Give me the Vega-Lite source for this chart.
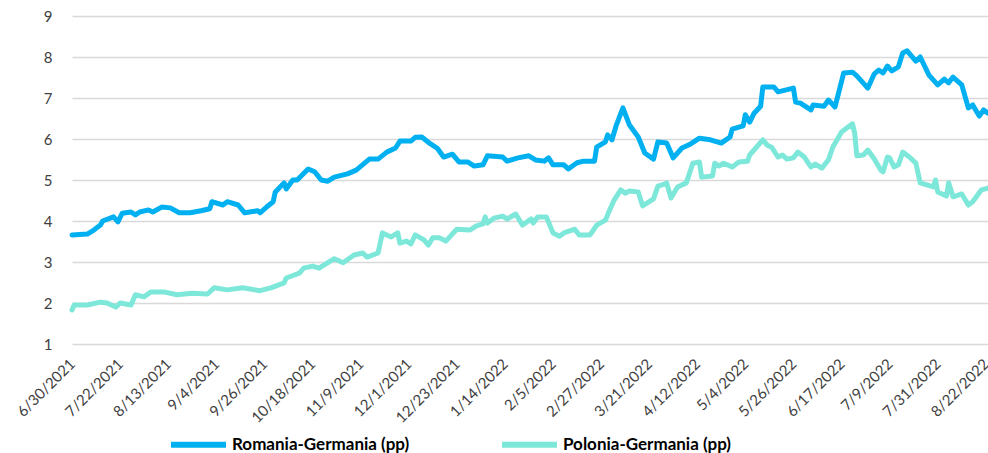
{
  "$schema": "https://vega.github.io/schema/vega-lite/v6.json",
  "width": 916,
  "height": 328,
  "autosize": {"type": "none"},
  "padding": {"left": 72, "top": 16, "right": 0, "bottom": 109},
  "config": {"view": {"stroke": null}, "font": "Lato"},
  "data": {"values": [
    {"d":"2021/06/30","s":"Romania-Germania (pp)","v":3.66},
    {"d":"2021/07/07","s":"Romania-Germania (pp)","v":3.68},
    {"d":"2021/07/10","s":"Romania-Germania (pp)","v":3.78},
    {"d":"2021/07/13","s":"Romania-Germania (pp)","v":3.9},
    {"d":"2021/07/14","s":"Romania-Germania (pp)","v":4.0},
    {"d":"2021/07/19","s":"Romania-Germania (pp)","v":4.1},
    {"d":"2021/07/21","s":"Romania-Germania (pp)","v":3.98},
    {"d":"2021/07/23","s":"Romania-Germania (pp)","v":4.19},
    {"d":"2021/07/27","s":"Romania-Germania (pp)","v":4.22},
    {"d":"2021/07/29","s":"Romania-Germania (pp)","v":4.15},
    {"d":"2021/07/31","s":"Romania-Germania (pp)","v":4.22},
    {"d":"2021/08/04","s":"Romania-Germania (pp)","v":4.27},
    {"d":"2021/08/06","s":"Romania-Germania (pp)","v":4.22},
    {"d":"2021/08/10","s":"Romania-Germania (pp)","v":4.34},
    {"d":"2021/08/14","s":"Romania-Germania (pp)","v":4.32},
    {"d":"2021/08/18","s":"Romania-Germania (pp)","v":4.2},
    {"d":"2021/08/23","s":"Romania-Germania (pp)","v":4.2},
    {"d":"2021/08/28","s":"Romania-Germania (pp)","v":4.25},
    {"d":"2021/09/01","s":"Romania-Germania (pp)","v":4.3},
    {"d":"2021/09/02","s":"Romania-Germania (pp)","v":4.47},
    {"d":"2021/09/07","s":"Romania-Germania (pp)","v":4.39},
    {"d":"2021/09/09","s":"Romania-Germania (pp)","v":4.47},
    {"d":"2021/09/14","s":"Romania-Germania (pp)","v":4.39},
    {"d":"2021/09/17","s":"Romania-Germania (pp)","v":4.2},
    {"d":"2021/09/23","s":"Romania-Germania (pp)","v":4.25},
    {"d":"2021/09/24","s":"Romania-Germania (pp)","v":4.2},
    {"d":"2021/09/27","s":"Romania-Germania (pp)","v":4.34},
    {"d":"2021/09/30","s":"Romania-Germania (pp)","v":4.47},
    {"d":"2021/10/01","s":"Romania-Germania (pp)","v":4.71},
    {"d":"2021/10/05","s":"Romania-Germania (pp)","v":4.93},
    {"d":"2021/10/06","s":"Romania-Germania (pp)","v":4.78},
    {"d":"2021/10/09","s":"Romania-Germania (pp)","v":5.0},
    {"d":"2021/10/11","s":"Romania-Germania (pp)","v":5.0},
    {"d":"2021/10/16","s":"Romania-Germania (pp)","v":5.27},
    {"d":"2021/10/19","s":"Romania-Germania (pp)","v":5.2},
    {"d":"2021/10/22","s":"Romania-Germania (pp)","v":5.0},
    {"d":"2021/10/25","s":"Romania-Germania (pp)","v":4.97},
    {"d":"2021/10/28","s":"Romania-Germania (pp)","v":5.07},
    {"d":"2021/11/03","s":"Romania-Germania (pp)","v":5.15},
    {"d":"2021/11/07","s":"Romania-Germania (pp)","v":5.24},
    {"d":"2021/11/13","s":"Romania-Germania (pp)","v":5.51},
    {"d":"2021/11/17","s":"Romania-Germania (pp)","v":5.51},
    {"d":"2021/11/21","s":"Romania-Germania (pp)","v":5.68},
    {"d":"2021/11/25","s":"Romania-Germania (pp)","v":5.78},
    {"d":"2021/11/27","s":"Romania-Germania (pp)","v":5.95},
    {"d":"2021/12/02","s":"Romania-Germania (pp)","v":5.95},
    {"d":"2021/12/04","s":"Romania-Germania (pp)","v":6.04},
    {"d":"2021/12/07","s":"Romania-Germania (pp)","v":6.05},
    {"d":"2021/12/11","s":"Romania-Germania (pp)","v":5.88},
    {"d":"2021/12/14","s":"Romania-Germania (pp)","v":5.78},
    {"d":"2021/12/17","s":"Romania-Germania (pp)","v":5.56},
    {"d":"2021/12/21","s":"Romania-Germania (pp)","v":5.63},
    {"d":"2021/12/24","s":"Romania-Germania (pp)","v":5.44},
    {"d":"2021/12/28","s":"Romania-Germania (pp)","v":5.44},
    {"d":"2021/12/31","s":"Romania-Germania (pp)","v":5.34},
    {"d":"2022/01/04","s":"Romania-Germania (pp)","v":5.37},
    {"d":"2022/01/06","s":"Romania-Germania (pp)","v":5.59},
    {"d":"2022/01/13","s":"Romania-Germania (pp)","v":5.56},
    {"d":"2022/01/15","s":"Romania-Germania (pp)","v":5.46},
    {"d":"2022/01/20","s":"Romania-Germania (pp)","v":5.54},
    {"d":"2022/01/25","s":"Romania-Germania (pp)","v":5.59},
    {"d":"2022/01/28","s":"Romania-Germania (pp)","v":5.49},
    {"d":"2022/02/01","s":"Romania-Germania (pp)","v":5.46},
    {"d":"2022/02/03","s":"Romania-Germania (pp)","v":5.54},
    {"d":"2022/02/05","s":"Romania-Germania (pp)","v":5.37},
    {"d":"2022/02/10","s":"Romania-Germania (pp)","v":5.37},
    {"d":"2022/02/12","s":"Romania-Germania (pp)","v":5.27},
    {"d":"2022/02/16","s":"Romania-Germania (pp)","v":5.42},
    {"d":"2022/02/19","s":"Romania-Germania (pp)","v":5.46},
    {"d":"2022/02/24","s":"Romania-Germania (pp)","v":5.46},
    {"d":"2022/02/25","s":"Romania-Germania (pp)","v":5.8},
    {"d":"2022/03/01","s":"Romania-Germania (pp)","v":5.93},
    {"d":"2022/03/02","s":"Romania-Germania (pp)","v":6.1},
    {"d":"2022/03/04","s":"Romania-Germania (pp)","v":5.98},
    {"d":"2022/03/06","s":"Romania-Germania (pp)","v":6.34},
    {"d":"2022/03/09","s":"Romania-Germania (pp)","v":6.76},
    {"d":"2022/03/12","s":"Romania-Germania (pp)","v":6.34},
    {"d":"2022/03/16","s":"Romania-Germania (pp)","v":6.05},
    {"d":"2022/03/19","s":"Romania-Germania (pp)","v":5.66},
    {"d":"2022/03/23","s":"Romania-Germania (pp)","v":5.51},
    {"d":"2022/03/25","s":"Romania-Germania (pp)","v":5.93},
    {"d":"2022/03/29","s":"Romania-Germania (pp)","v":5.9},
    {"d":"2022/04/01","s":"Romania-Germania (pp)","v":5.54},
    {"d":"2022/04/05","s":"Romania-Germania (pp)","v":5.78},
    {"d":"2022/04/09","s":"Romania-Germania (pp)","v":5.88},
    {"d":"2022/04/13","s":"Romania-Germania (pp)","v":6.02},
    {"d":"2022/04/18","s":"Romania-Germania (pp)","v":5.98},
    {"d":"2022/04/23","s":"Romania-Germania (pp)","v":5.9},
    {"d":"2022/04/27","s":"Romania-Germania (pp)","v":6.05},
    {"d":"2022/04/28","s":"Romania-Germania (pp)","v":6.24},
    {"d":"2022/05/03","s":"Romania-Germania (pp)","v":6.32},
    {"d":"2022/05/04","s":"Romania-Germania (pp)","v":6.59},
    {"d":"2022/05/06","s":"Romania-Germania (pp)","v":6.41},
    {"d":"2022/05/08","s":"Romania-Germania (pp)","v":6.63},
    {"d":"2022/05/11","s":"Romania-Germania (pp)","v":6.8},
    {"d":"2022/05/12","s":"Romania-Germania (pp)","v":7.27},
    {"d":"2022/05/17","s":"Romania-Germania (pp)","v":7.27},
    {"d":"2022/05/19","s":"Romania-Germania (pp)","v":7.15},
    {"d":"2022/05/26","s":"Romania-Germania (pp)","v":7.24},
    {"d":"2022/05/27","s":"Romania-Germania (pp)","v":6.9},
    {"d":"2022/05/29","s":"Romania-Germania (pp)","v":6.88},
    {"d":"2022/06/03","s":"Romania-Germania (pp)","v":6.71},
    {"d":"2022/06/04","s":"Romania-Germania (pp)","v":6.83},
    {"d":"2022/06/09","s":"Romania-Germania (pp)","v":6.8},
    {"d":"2022/06/11","s":"Romania-Germania (pp)","v":6.95},
    {"d":"2022/06/14","s":"Romania-Germania (pp)","v":6.78},
    {"d":"2022/06/18","s":"Romania-Germania (pp)","v":7.61},
    {"d":"2022/06/22","s":"Romania-Germania (pp)","v":7.63},
    {"d":"2022/06/24","s":"Romania-Germania (pp)","v":7.54},
    {"d":"2022/06/29","s":"Romania-Germania (pp)","v":7.24},
    {"d":"2022/07/02","s":"Romania-Germania (pp)","v":7.59},
    {"d":"2022/07/04","s":"Romania-Germania (pp)","v":7.68},
    {"d":"2022/07/06","s":"Romania-Germania (pp)","v":7.61},
    {"d":"2022/07/08","s":"Romania-Germania (pp)","v":7.78},
    {"d":"2022/07/10","s":"Romania-Germania (pp)","v":7.66},
    {"d":"2022/07/13","s":"Romania-Germania (pp)","v":7.76},
    {"d":"2022/07/15","s":"Romania-Germania (pp)","v":8.1},
    {"d":"2022/07/17","s":"Romania-Germania (pp)","v":8.15},
    {"d":"2022/07/21","s":"Romania-Germania (pp)","v":7.9},
    {"d":"2022/07/23","s":"Romania-Germania (pp)","v":8.0},
    {"d":"2022/07/27","s":"Romania-Germania (pp)","v":7.56},
    {"d":"2022/07/31","s":"Romania-Germania (pp)","v":7.32},
    {"d":"2022/08/03","s":"Romania-Germania (pp)","v":7.46},
    {"d":"2022/08/05","s":"Romania-Germania (pp)","v":7.37},
    {"d":"2022/08/07","s":"Romania-Germania (pp)","v":7.51},
    {"d":"2022/08/11","s":"Romania-Germania (pp)","v":7.32},
    {"d":"2022/08/14","s":"Romania-Germania (pp)","v":6.76},
    {"d":"2022/08/16","s":"Romania-Germania (pp)","v":6.83},
    {"d":"2022/08/19","s":"Romania-Germania (pp)","v":6.56},
    {"d":"2022/08/21","s":"Romania-Germania (pp)","v":6.71},
    {"d":"2022/08/23","s":"Romania-Germania (pp)","v":6.63},
    {"d":"2021/06/30","s":"Polonia-Germania (pp)","v":1.83},
    {"d":"2021/07/01","s":"Polonia-Germania (pp)","v":1.95},
    {"d":"2021/07/07","s":"Polonia-Germania (pp)","v":1.95},
    {"d":"2021/07/13","s":"Polonia-Germania (pp)","v":2.02},
    {"d":"2021/07/16","s":"Polonia-Germania (pp)","v":2.0},
    {"d":"2021/07/20","s":"Polonia-Germania (pp)","v":1.9},
    {"d":"2021/07/22","s":"Polonia-Germania (pp)","v":2.0},
    {"d":"2021/07/27","s":"Polonia-Germania (pp)","v":1.95},
    {"d":"2021/07/29","s":"Polonia-Germania (pp)","v":2.2},
    {"d":"2021/08/02","s":"Polonia-Germania (pp)","v":2.15},
    {"d":"2021/08/05","s":"Polonia-Germania (pp)","v":2.27},
    {"d":"2021/08/11","s":"Polonia-Germania (pp)","v":2.27},
    {"d":"2021/08/17","s":"Polonia-Germania (pp)","v":2.2},
    {"d":"2021/08/24","s":"Polonia-Germania (pp)","v":2.24},
    {"d":"2021/08/31","s":"Polonia-Germania (pp)","v":2.22},
    {"d":"2021/09/03","s":"Polonia-Germania (pp)","v":2.37},
    {"d":"2021/09/09","s":"Polonia-Germania (pp)","v":2.32},
    {"d":"2021/09/16","s":"Polonia-Germania (pp)","v":2.37},
    {"d":"2021/09/24","s":"Polonia-Germania (pp)","v":2.3},
    {"d":"2021/09/29","s":"Polonia-Germania (pp)","v":2.37},
    {"d":"2021/10/05","s":"Polonia-Germania (pp)","v":2.49},
    {"d":"2021/10/06","s":"Polonia-Germania (pp)","v":2.61},
    {"d":"2021/10/12","s":"Polonia-Germania (pp)","v":2.73},
    {"d":"2021/10/14","s":"Polonia-Germania (pp)","v":2.85},
    {"d":"2021/10/18","s":"Polonia-Germania (pp)","v":2.9},
    {"d":"2021/10/21","s":"Polonia-Germania (pp)","v":2.85},
    {"d":"2021/10/28","s":"Polonia-Germania (pp)","v":3.08},
    {"d":"2021/11/01","s":"Polonia-Germania (pp)","v":2.98},
    {"d":"2021/11/06","s":"Polonia-Germania (pp)","v":3.17},
    {"d":"2021/11/10","s":"Polonia-Germania (pp)","v":3.22},
    {"d":"2021/11/12","s":"Polonia-Germania (pp)","v":3.12},
    {"d":"2021/11/17","s":"Polonia-Germania (pp)","v":3.22},
    {"d":"2021/11/19","s":"Polonia-Germania (pp)","v":3.71},
    {"d":"2021/11/23","s":"Polonia-Germania (pp)","v":3.61},
    {"d":"2021/11/26","s":"Polonia-Germania (pp)","v":3.71},
    {"d":"2021/11/27","s":"Polonia-Germania (pp)","v":3.46},
    {"d":"2021/11/30","s":"Polonia-Germania (pp)","v":3.51},
    {"d":"2021/12/02","s":"Polonia-Germania (pp)","v":3.44},
    {"d":"2021/12/04","s":"Polonia-Germania (pp)","v":3.66},
    {"d":"2021/12/08","s":"Polonia-Germania (pp)","v":3.54},
    {"d":"2021/12/10","s":"Polonia-Germania (pp)","v":3.41},
    {"d":"2021/12/12","s":"Polonia-Germania (pp)","v":3.59},
    {"d":"2021/12/15","s":"Polonia-Germania (pp)","v":3.59},
    {"d":"2021/12/18","s":"Polonia-Germania (pp)","v":3.51},
    {"d":"2021/12/23","s":"Polonia-Germania (pp)","v":3.8},
    {"d":"2021/12/29","s":"Polonia-Germania (pp)","v":3.78},
    {"d":"2022/01/01","s":"Polonia-Germania (pp)","v":3.88},
    {"d":"2022/01/04","s":"Polonia-Germania (pp)","v":3.93},
    {"d":"2022/01/05","s":"Polonia-Germania (pp)","v":4.1},
    {"d":"2022/01/06","s":"Polonia-Germania (pp)","v":3.95},
    {"d":"2022/01/09","s":"Polonia-Germania (pp)","v":4.07},
    {"d":"2022/01/13","s":"Polonia-Germania (pp)","v":4.12},
    {"d":"2022/01/15","s":"Polonia-Germania (pp)","v":4.05},
    {"d":"2022/01/19","s":"Polonia-Germania (pp)","v":4.17},
    {"d":"2022/01/22","s":"Polonia-Germania (pp)","v":3.9},
    {"d":"2022/01/26","s":"Polonia-Germania (pp)","v":4.05},
    {"d":"2022/01/27","s":"Polonia-Germania (pp)","v":3.95},
    {"d":"2022/01/29","s":"Polonia-Germania (pp)","v":4.1},
    {"d":"2022/02/02","s":"Polonia-Germania (pp)","v":4.1},
    {"d":"2022/02/05","s":"Polonia-Germania (pp)","v":3.71},
    {"d":"2022/02/08","s":"Polonia-Germania (pp)","v":3.63},
    {"d":"2022/02/10","s":"Polonia-Germania (pp)","v":3.71},
    {"d":"2022/02/15","s":"Polonia-Germania (pp)","v":3.8},
    {"d":"2022/02/17","s":"Polonia-Germania (pp)","v":3.66},
    {"d":"2022/02/22","s":"Polonia-Germania (pp)","v":3.66},
    {"d":"2022/02/25","s":"Polonia-Germania (pp)","v":3.9},
    {"d":"2022/03/01","s":"Polonia-Germania (pp)","v":4.02},
    {"d":"2022/03/02","s":"Polonia-Germania (pp)","v":4.15},
    {"d":"2022/03/05","s":"Polonia-Germania (pp)","v":4.51},
    {"d":"2022/03/08","s":"Polonia-Germania (pp)","v":4.76},
    {"d":"2022/03/10","s":"Polonia-Germania (pp)","v":4.68},
    {"d":"2022/03/12","s":"Polonia-Germania (pp)","v":4.73},
    {"d":"2022/03/16","s":"Polonia-Germania (pp)","v":4.71},
    {"d":"2022/03/18","s":"Polonia-Germania (pp)","v":4.37},
    {"d":"2022/03/23","s":"Polonia-Germania (pp)","v":4.54},
    {"d":"2022/03/25","s":"Polonia-Germania (pp)","v":4.85},
    {"d":"2022/03/28","s":"Polonia-Germania (pp)","v":4.9},
    {"d":"2022/03/29","s":"Polonia-Germania (pp)","v":4.93},
    {"d":"2022/03/31","s":"Polonia-Germania (pp)","v":4.56},
    {"d":"2022/04/03","s":"Polonia-Germania (pp)","v":4.83},
    {"d":"2022/04/07","s":"Polonia-Germania (pp)","v":4.93},
    {"d":"2022/04/10","s":"Polonia-Germania (pp)","v":5.41},
    {"d":"2022/04/13","s":"Polonia-Germania (pp)","v":5.44},
    {"d":"2022/04/14","s":"Polonia-Germania (pp)","v":5.07},
    {"d":"2022/04/19","s":"Polonia-Germania (pp)","v":5.1},
    {"d":"2022/04/20","s":"Polonia-Germania (pp)","v":5.41},
    {"d":"2022/04/22","s":"Polonia-Germania (pp)","v":5.34},
    {"d":"2022/04/24","s":"Polonia-Germania (pp)","v":5.41},
    {"d":"2022/04/28","s":"Polonia-Germania (pp)","v":5.32},
    {"d":"2022/05/01","s":"Polonia-Germania (pp)","v":5.44},
    {"d":"2022/05/05","s":"Polonia-Germania (pp)","v":5.46},
    {"d":"2022/05/06","s":"Polonia-Germania (pp)","v":5.61},
    {"d":"2022/05/12","s":"Polonia-Germania (pp)","v":5.98},
    {"d":"2022/05/14","s":"Polonia-Germania (pp)","v":5.85},
    {"d":"2022/05/16","s":"Polonia-Germania (pp)","v":5.8},
    {"d":"2022/05/19","s":"Polonia-Germania (pp)","v":5.56},
    {"d":"2022/05/21","s":"Polonia-Germania (pp)","v":5.61},
    {"d":"2022/05/23","s":"Polonia-Germania (pp)","v":5.51},
    {"d":"2022/05/26","s":"Polonia-Germania (pp)","v":5.54},
    {"d":"2022/05/28","s":"Polonia-Germania (pp)","v":5.68},
    {"d":"2022/05/31","s":"Polonia-Germania (pp)","v":5.56},
    {"d":"2022/06/03","s":"Polonia-Germania (pp)","v":5.32},
    {"d":"2022/06/05","s":"Polonia-Germania (pp)","v":5.39},
    {"d":"2022/06/08","s":"Polonia-Germania (pp)","v":5.29},
    {"d":"2022/06/11","s":"Polonia-Germania (pp)","v":5.49},
    {"d":"2022/06/13","s":"Polonia-Germania (pp)","v":5.8},
    {"d":"2022/06/17","s":"Polonia-Germania (pp)","v":6.17},
    {"d":"2022/06/22","s":"Polonia-Germania (pp)","v":6.37},
    {"d":"2022/06/23","s":"Polonia-Germania (pp)","v":6.15},
    {"d":"2022/06/24","s":"Polonia-Germania (pp)","v":5.59},
    {"d":"2022/06/27","s":"Polonia-Germania (pp)","v":5.61},
    {"d":"2022/06/29","s":"Polonia-Germania (pp)","v":5.73},
    {"d":"2022/07/02","s":"Polonia-Germania (pp)","v":5.51},
    {"d":"2022/07/05","s":"Polonia-Germania (pp)","v":5.24},
    {"d":"2022/07/06","s":"Polonia-Germania (pp)","v":5.2},
    {"d":"2022/07/08","s":"Polonia-Germania (pp)","v":5.56},
    {"d":"2022/07/09","s":"Polonia-Germania (pp)","v":5.54},
    {"d":"2022/07/11","s":"Polonia-Germania (pp)","v":5.32},
    {"d":"2022/07/13","s":"Polonia-Germania (pp)","v":5.37},
    {"d":"2022/07/15","s":"Polonia-Germania (pp)","v":5.68},
    {"d":"2022/07/18","s":"Polonia-Germania (pp)","v":5.56},
    {"d":"2022/07/21","s":"Polonia-Germania (pp)","v":5.41},
    {"d":"2022/07/23","s":"Polonia-Germania (pp)","v":4.93},
    {"d":"2022/07/29","s":"Polonia-Germania (pp)","v":4.83},
    {"d":"2022/07/30","s":"Polonia-Germania (pp)","v":5.0},
    {"d":"2022/07/31","s":"Polonia-Germania (pp)","v":4.71},
    {"d":"2022/08/04","s":"Polonia-Germania (pp)","v":4.61},
    {"d":"2022/08/05","s":"Polonia-Germania (pp)","v":4.93},
    {"d":"2022/08/07","s":"Polonia-Germania (pp)","v":4.59},
    {"d":"2022/08/11","s":"Polonia-Germania (pp)","v":4.66},
    {"d":"2022/08/14","s":"Polonia-Germania (pp)","v":4.39},
    {"d":"2022/08/16","s":"Polonia-Germania (pp)","v":4.47},
    {"d":"2022/08/20","s":"Polonia-Germania (pp)","v":4.76},
    {"d":"2022/08/23","s":"Polonia-Germania (pp)","v":4.8}
  ]},
  "mark": {"type": "line", "strokeWidth": 5, "strokeJoin": "round", "strokeCap": "round", "clip": false},
  "encoding": {
    "x": {
      "field": "d", "type": "temporal",
      "scale": {"domain": [{"year": 2021, "month": 6, "date": 30}, {"year": 2022, "month": 8, "date": 23}]},
      "axis": {
        "title": null,
        "values": [
          {"year": 2021, "month": 6, "date": 30}, {"year": 2021, "month": 7, "date": 22},
          {"year": 2021, "month": 8, "date": 13}, {"year": 2021, "month": 9, "date": 4},
          {"year": 2021, "month": 9, "date": 26}, {"year": 2021, "month": 10, "date": 18},
          {"year": 2021, "month": 11, "date": 9}, {"year": 2021, "month": 12, "date": 1},
          {"year": 2021, "month": 12, "date": 23}, {"year": 2022, "month": 1, "date": 14},
          {"year": 2022, "month": 2, "date": 5}, {"year": 2022, "month": 2, "date": 27},
          {"year": 2022, "month": 3, "date": 21}, {"year": 2022, "month": 4, "date": 12},
          {"year": 2022, "month": 5, "date": 4}, {"year": 2022, "month": 5, "date": 26},
          {"year": 2022, "month": 6, "date": 17}, {"year": 2022, "month": 7, "date": 9},
          {"year": 2022, "month": 7, "date": 31}, {"year": 2022, "month": 8, "date": 22}
        ],
        "format": "%-m/%-d/%Y",
        "labelAngle": -45, "labelAlign": "right", "labelBaseline": "middle",
        "labelPadding": 17, "labelFontSize": 15, "labelColor": "#404040", "labelFont": "Lato",
        "labelOverlap": false, "labelBound": false, "labelFlush": false,
        "grid": false, "ticks": false, "domain": false
      }
    },
    "y": {
      "field": "v", "type": "quantitative",
      "scale": {"domain": [1, 9], "nice": false, "zero": false},
      "axis": {
        "title": null, "values": [1, 2, 3, 4, 5, 6, 7, 8, 9],
        "grid": true, "gridColor": "#d9d9d9", "gridWidth": 1.3,
        "domain": false, "ticks": false, "labelPadding": 20,
        "labelFontSize": 15, "labelColor": "#404040", "labelFont": "Lato"
      }
    },
    "color": {
      "field": "s", "type": "nominal",
      "scale": {"domain": ["Romania-Germania (pp)", "Polonia-Germania (pp)"], "range": ["#00B0F0", "#7DE8D9"]},
      "legend": {
        "title": null, "orient": "none", "direction": "horizontal",
        "legendX": 96, "legendY": 398,
        "symbolType": "stroke", "symbolSize": 3025, "symbolStrokeWidth": 6,
        "labelFont": "Lato", "labelFontWeight": "bold", "labelFontSize": 17, "labelColor": "#000000",
        "labelOffset": 3, "columnPadding": 80, "labelLimit": 400
      }
    }
  }
}
